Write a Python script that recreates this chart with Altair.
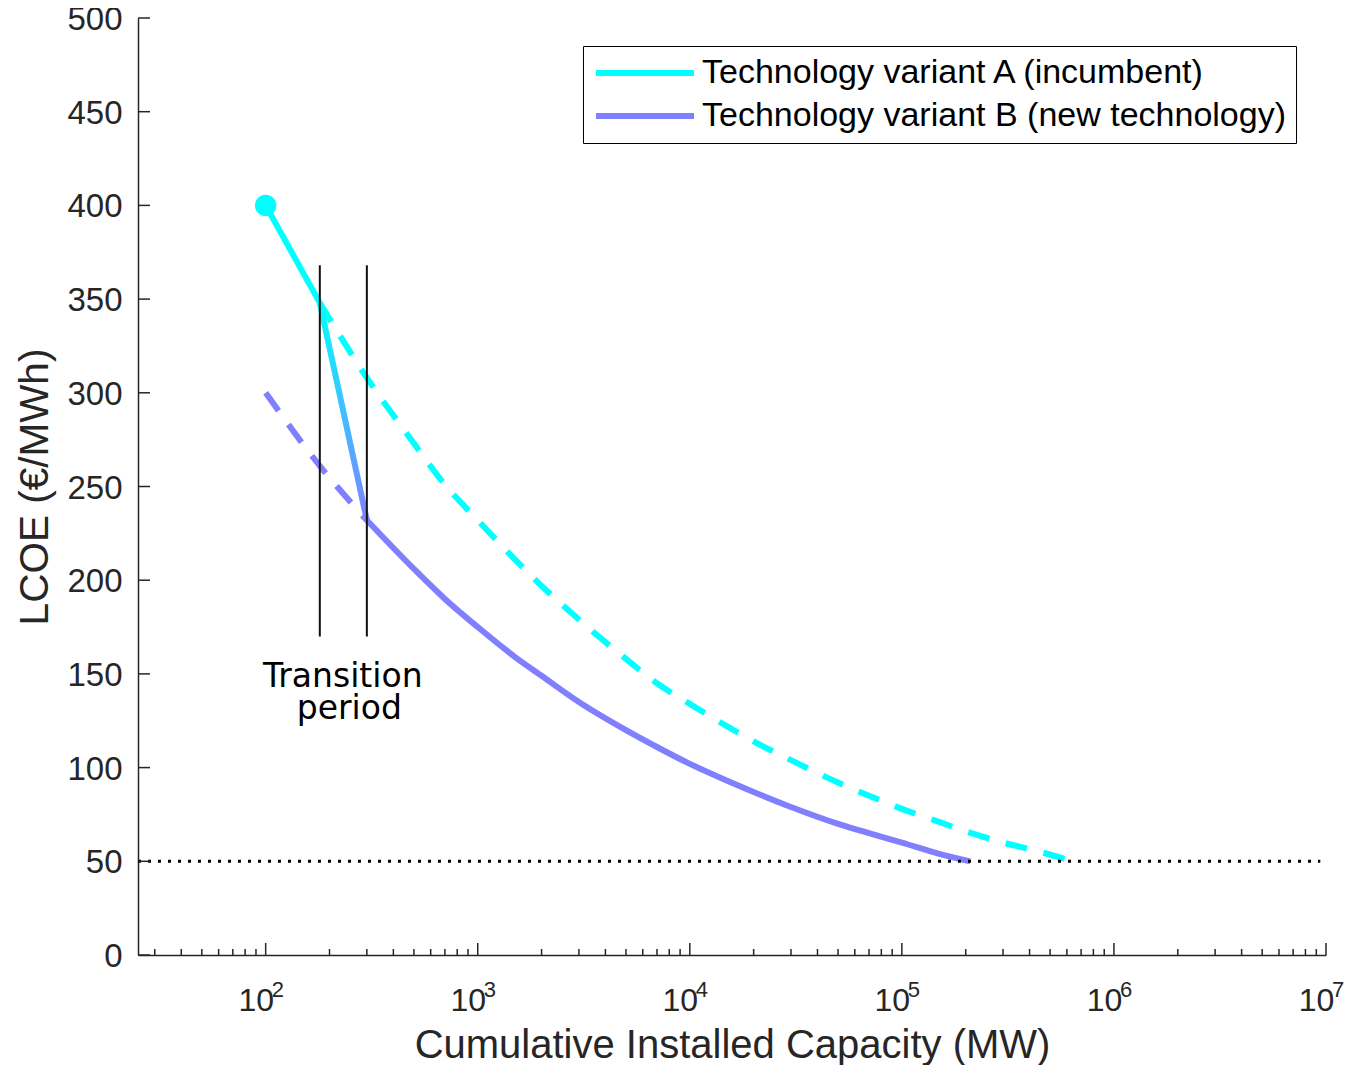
import altair as alt
import pandas as pd

# ---------------- data ----------------
series_a = "Technology variant A (incumbent)"
series_b = "Technology variant B (new technology)"

a_solid_x = [100, 180]
a_solid_y = [400, 348]

a_dash_x = [180, 300, 500, 700, 1000, 1500, 2000, 3000, 5000, 7000, 1e4, 1.5e4, 2e4, 3e4, 5e4, 7e4,
            1e5, 1.5e5, 2e5, 3e5, 4.5e5, 6.4e5]
a_dash_y = [348, 308, 273, 251, 232, 211, 197, 179, 158, 145, 134, 122, 114, 104, 92, 85,
            78, 71, 66, 60, 55, 50]

b_dash_x = [100, 180, 300]
b_dash_y = [300, 261, 232]

b_solid_x = [300, 500, 700, 1000, 1500, 2000, 3000, 5000, 7000, 1e4, 1.5e4, 2e4, 3e4, 5e4, 7e4,
             1e5, 1.5e5, 2.1e5]
b_solid_y = [232, 206, 190, 175, 159, 149, 135, 120, 111, 102, 93, 87, 79, 70, 65,
             60, 54, 50]

trans_x = [180, 300]
trans_y = [348, 232]

start_x = [100]
start_y = [400]

floor_x = [25, 9.4e6]
floor_y = [50, 50]

bound_x = [180, 300]
bound_y_low = [170, 170]
bound_y_high = [368, 368]

note_x = [231, 248]
note_y = [143, 126]
note_text = ["Transition", "period"]

y_tick_values = list(range(0, 501, 50))
x_major_values = [1e2, 1e3, 1e4, 1e5, 1e6, 1e7]
x_major_base = ["10"] * 6
x_major_exp = ["2", "3", "4", "5", "6", "7"]
x_minor_values = [m * 10 ** e for e in range(1, 7) for m in range(2, 10) if 25 <= m * 10 ** e <= 1e7]

# ---------------- styling ----------------
W, H = 1188, 937
CYAN = "#00FFFF"
BLUE = "#8080FF"
AX = "#262626"
FONT = "Liberation Sans"

xscale = alt.Scale(type="log", domain=[25, 1e7], nice=False)
yscale = alt.Scale(domain=[0, 500], nice=False)
cscale = alt.Scale(domain=[series_a, series_b], range=[CYAN, BLUE])

label_expr = "".join(
    f"datum.value == {v:g} ? '{s}' : " for v, s in zip(x_major_values, x_major_base)
) + "''"

x_axis = alt.Axis(
    values=x_major_values, labelExpr=label_expr, ticks=False, tickSize=0, grid=False,
    domainColor=AX, domainWidth=1.5, labelFont=FONT, labelFontSize=32, labelColor=AX,
    labelPadding=55, labelBaseline="alphabetic", labelFlush=False, labelOverlap=False,
    labelOffset=-10,
    title="Cumulative Installed Capacity (MW)", titleFont=FONT, titleFontSize=40,
    titleFontWeight="normal", titleColor=AX, titleX=W / 2, titleY=102,
    titleBaseline="alphabetic", titleAlign="center",
)
y_axis = alt.Axis(
    values=y_tick_values, ticks=False, tickSize=0, grid=False,
    domainColor=AX, domainWidth=1.5, labelFont=FONT, labelFontSize=33, labelColor=AX,
    labelPadding=16, labelBaseline="middle", labelOffset=1.5,
    title="LCOE (€/MWh)", titleFont=FONT, titleFontSize=40.5, titleFontWeight="normal",
    titleColor=AX, titleX=-103, titleY=H / 2, titleAngle=-90, titleBaseline="middle",
    titleAlign="center",
)

legend = alt.Legend(
    title=None, orient="none", legendX=445, legendY=28,
    strokeColor="black", fillColor="white", padding=10, rowPadding=9, clipHeight=34,
    labelFont=FONT, labelFontSize=34, labelColor="black", labelLimit=1000, labelOffset=5,
    symbolType="stroke", symbolSize=9604, symbolStrokeWidth=6,
)


def frame(xs, ys, series):
    return pd.DataFrame({"x": xs, "y": ys, "series": [series] * len(xs)})


df_a_solid = frame(a_solid_x, a_solid_y, series_a)
df_b_solid = frame(b_solid_x, b_solid_y, series_b)
df_a_dash = frame(a_dash_x, a_dash_y, series_a)
df_b_dash = frame(b_dash_x, b_dash_y, series_b)
df_trans = pd.DataFrame({"x": trans_x, "y": trans_y})
df_start = pd.DataFrame({"x": start_x, "y": start_y})
df_floor = pd.DataFrame({"x": floor_x, "y": floor_y})
df_bound = pd.DataFrame({"x": bound_x, "y": bound_y_low, "y2": bound_y_high})
df_note = pd.DataFrame({"x": note_x, "y": note_y, "t": note_text})
df_yt = pd.DataFrame({"y": y_tick_values})
df_xmaj = pd.DataFrame({"x": x_major_values, "e": x_major_exp})
df_xmin = pd.DataFrame({"x": x_minor_values})

X = alt.X("x:Q", scale=xscale, axis=x_axis)
Y = alt.Y("y:Q", scale=yscale, axis=y_axis)
color = alt.Color("series:N", scale=cscale, legend=legend)

a_solid = alt.Chart(df_a_solid).mark_line(strokeWidth=6).encode(x=X, y=Y, color=color)
b_solid = alt.Chart(df_b_solid).mark_line(strokeWidth=6, interpolate="monotone").encode(
    x=X, y=Y, color=color
)
a_dash = alt.Chart(df_a_dash).mark_line(strokeWidth=6, strokeDash=[22, 17], interpolate="monotone").encode(
    x=X, y=Y, color=color
)
b_dash = alt.Chart(df_b_dash).mark_line(strokeWidth=6, strokeDash=[22, 17], interpolate="monotone").encode(
    x=X, y=Y, color=color
)
gradient = alt.Gradient(
    gradient="linear",
    stops=[alt.GradientStop(offset=0, color=CYAN), alt.GradientStop(offset=1, color=BLUE)],
    x1=0, x2=0, y1=0, y2=1,
)
trans = alt.Chart(df_trans).mark_line(strokeWidth=6, color=gradient).encode(x=X, y=Y)
start = alt.Chart(df_start).mark_point(shape="circle", filled=True, size=460, color=CYAN, opacity=1).encode(
    x=X, y=Y
)
floor = alt.Chart(df_floor).mark_line(strokeWidth=3, strokeDash=[3, 7], color="black").encode(x=X, y=Y)
bounds = alt.Chart(df_bound).mark_rule(strokeWidth=2, color="#111111").encode(x=X, y=Y, y2="y2:Q")
note = alt.Chart(df_note).mark_text(
    font="DejaVu Sans", fontSize=33, align="center", baseline="alphabetic", color="black"
).encode(x=X, y=Y, text="t")

ytick = alt.Chart(df_yt).mark_rule(color=AX, strokeWidth=1.5).encode(
    y=Y, x=alt.value(0), x2=alt.value(12)
)
xmaj = alt.Chart(df_xmaj).mark_rule(color=AX, strokeWidth=1.5).encode(
    x=X, y=alt.value(H), y2=alt.value(H - 12)
)
xexp = alt.Chart(df_xmaj).mark_text(
    font=FONT, fontSize=22, align="left", baseline="alphabetic", dx=6, color=AX
).encode(x=X, y=alt.value(H + 42), text="e")
xmin = alt.Chart(df_xmin).mark_rule(color=AX, strokeWidth=1.5).encode(
    x=X, y=alt.value(H), y2=alt.value(H - 6)
)

chart = (
    alt.layer(a_solid, b_solid, a_dash, b_dash, floor, trans, bounds, start, note,
              ytick, xmaj, xmin, xexp)
    .properties(
        width=W, height=H,
        autosize=alt.AutoSizeParams(type="none"),
        padding={"left": 130, "top": 10, "right": 18, "bottom": 110},
        background="white",
    )
    .configure_view(stroke=None)
)

chart.save("out.html", embed_options={"renderer": "svg", "actions": False})
